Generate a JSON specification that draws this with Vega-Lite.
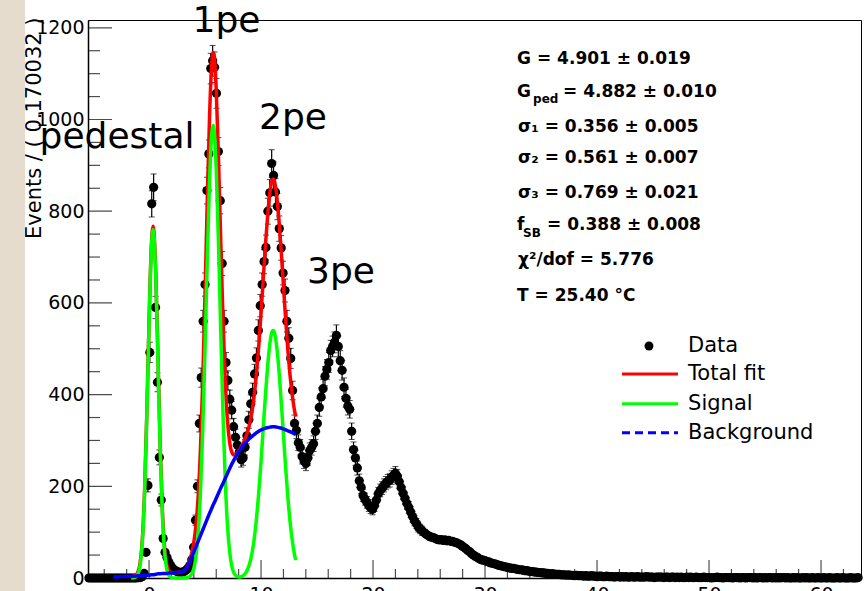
{
  "$schema": "https://vega.github.io/schema/vega-lite/v6.json",
  "description": "Charge spectrum of a photodetector with pedestal, 1pe, 2pe and 3pe peaks, total fit, signal and background components.",
  "autosize": {"type": "none"},
  "width": 773,
  "height": 558,
  "padding": {"left": 88, "top": 20, "right": 4, "bottom": 13},
  "background": "white",
  "config": {
    "font": "DejaVu Sans",
    "view": {"stroke": "black", "strokeWidth": 1, "fill": "white"},
    "axis": {
      "grid": false, "labelOverlap": false, "labelFlush": false, "ticks": false,
      "labelFont": "DejaVu Sans", "labelFontSize": 19, "labelColor": "black",
      "domainColor": "black", "domainWidth": 1.5
    }
  },
  "datasets": {
    "hist": [
      {"x":-5.37,"n":0},{"x":-5.20,"n":0},{"x":-5.03,"n":0},{"x":-4.86,"n":0},{"x":-4.69,"n":0},{"x":-4.52,"n":0},{"x":-4.35,"n":0},{"x":-4.18,"n":0},{"x":-4.01,"n":0},{"x":-3.84,"n":0},
      {"x":-3.67,"n":0},{"x":-3.50,"n":0},{"x":-3.33,"n":0},{"x":-3.16,"n":0},{"x":-2.99,"n":0},{"x":-2.82,"n":0},{"x":-2.65,"n":0},{"x":-2.48,"n":0},{"x":-2.31,"n":0},{"x":-2.14,"n":0},
      {"x":-1.97,"n":0},{"x":-1.80,"n":0},{"x":-1.63,"n":0},{"x":-1.46,"n":0},{"x":-1.29,"n":0},{"x":-1.12,"n":0},{"x":-0.95,"n":1},{"x":-0.78,"n":1},{"x":-0.61,"n":3},{"x":-0.44,"n":10},
      {"x":-0.27,"n":56},{"x":-0.10,"n":202,"e":14.2},{"x":0.07,"n":492,"e":22.2},{"x":0.24,"n":816,"e":28.6},{"x":0.41,"n":852,"e":29.2},{"x":0.58,"n":590,"e":24.3},{"x":0.75,"n":427,"e":20.7},{"x":0.92,"n":263,"e":16.2},{"x":1.09,"n":170,"e":13.0},{"x":1.26,"n":86},
      {"x":1.43,"n":56},{"x":1.60,"n":45},{"x":1.77,"n":35},{"x":1.94,"n":27},{"x":2.11,"n":21},{"x":2.28,"n":17},{"x":2.45,"n":15},{"x":2.62,"n":13},{"x":2.79,"n":12},{"x":2.96,"n":13},
      {"x":3.13,"n":14},{"x":3.30,"n":17},{"x":3.47,"n":21},{"x":3.64,"n":27},{"x":3.81,"n":40},{"x":3.98,"n":67},{"x":4.15,"n":126,"e":11.2},{"x":4.32,"n":200,"e":14.1},{"x":4.49,"n":337,"e":18.4},{"x":4.66,"n":437,"e":20.9},
      {"x":4.83,"n":560,"e":23.7},{"x":5.00,"n":640,"e":25.3},{"x":5.17,"n":845,"e":29.1},{"x":5.34,"n":925,"e":30.4},{"x":5.51,"n":1111,"e":33.3},{"x":5.68,"n":1128,"e":33.6},{"x":5.85,"n":1114,"e":33.4},{"x":6.02,"n":1057,"e":32.5},{"x":6.19,"n":930,"e":30.5},{"x":6.36,"n":823,"e":28.7},
      {"x":6.53,"n":686,"e":26.2},{"x":6.70,"n":560,"e":23.7},{"x":6.87,"n":470,"e":21.7},{"x":7.04,"n":431,"e":20.8},{"x":7.21,"n":390,"e":19.7},{"x":7.38,"n":366,"e":19.1},{"x":7.55,"n":330,"e":18.2},{"x":7.72,"n":307,"e":17.5},{"x":7.89,"n":290,"e":17.0},{"x":8.06,"n":275,"e":16.6},
      {"x":8.23,"n":258,"e":16.1},{"x":8.40,"n":262,"e":16.2},{"x":8.57,"n":285,"e":16.9},{"x":8.74,"n":310,"e":17.6},{"x":8.91,"n":345,"e":18.6},{"x":9.08,"n":380,"e":19.5},{"x":9.25,"n":405,"e":20.1},{"x":9.42,"n":445,"e":21.1},{"x":9.59,"n":480,"e":21.9},{"x":9.76,"n":540,"e":23.2},
      {"x":9.93,"n":594,"e":24.4},{"x":10.10,"n":640,"e":25.3},{"x":10.27,"n":690,"e":26.3},{"x":10.44,"n":721,"e":26.9},{"x":10.61,"n":800,"e":28.3},{"x":10.78,"n":840,"e":29.0},{"x":10.95,"n":904,"e":30.1},{"x":11.12,"n":878,"e":29.6},{"x":11.29,"n":842,"e":29.0},{"x":11.46,"n":810,"e":28.5},
      {"x":11.63,"n":762,"e":27.6},{"x":11.80,"n":720,"e":26.8},{"x":11.97,"n":665,"e":25.8},{"x":12.14,"n":627,"e":25.0},{"x":12.31,"n":560,"e":23.7},{"x":12.48,"n":523,"e":22.9},{"x":12.65,"n":479,"e":21.9},{"x":12.82,"n":409,"e":20.2},{"x":12.99,"n":337,"e":18.4},{"x":13.16,"n":322,"e":17.9},
      {"x":13.33,"n":295,"e":17.2},{"x":13.50,"n":285,"e":16.9},{"x":13.67,"n":265,"e":16.3},{"x":13.84,"n":255,"e":16.0},{"x":14.01,"n":250,"e":15.8},{"x":14.18,"n":262,"e":16.2},{"x":14.35,"n":278,"e":16.7},{"x":14.52,"n":285,"e":16.9},{"x":14.69,"n":293,"e":17.1},{"x":14.86,"n":320,"e":17.9},
      {"x":15.03,"n":337,"e":18.4},{"x":15.20,"n":372,"e":19.3},{"x":15.37,"n":395,"e":19.9},{"x":15.54,"n":413,"e":20.3},{"x":15.71,"n":440,"e":21.0},{"x":15.88,"n":455,"e":21.3},{"x":16.05,"n":470,"e":21.7},{"x":16.22,"n":496,"e":22.3},{"x":16.39,"n":505,"e":22.5},{"x":16.56,"n":514,"e":22.7},
      {"x":16.73,"n":529,"e":23.0},{"x":16.90,"n":505,"e":22.5},{"x":17.07,"n":474,"e":21.8},{"x":17.24,"n":453,"e":21.3},{"x":17.41,"n":416,"e":20.4},{"x":17.58,"n":392,"e":19.8},{"x":17.75,"n":375,"e":19.4},{"x":17.92,"n":368,"e":19.2},{"x":18.09,"n":320,"e":17.9},{"x":18.26,"n":280,"e":16.7},
      {"x":18.43,"n":262,"e":16.2},{"x":18.60,"n":240,"e":15.5},{"x":18.77,"n":212,"e":14.6},{"x":18.94,"n":198,"e":14.1},{"x":19.11,"n":180,"e":13.4},{"x":19.28,"n":172,"e":13.1},{"x":19.45,"n":165,"e":12.8},{"x":19.62,"n":158,"e":12.6},{"x":19.79,"n":153,"e":12.4},{"x":19.96,"n":150,"e":12.2},
      {"x":20.13,"n":158,"e":12.6},{"x":20.30,"n":170,"e":13.0},{"x":20.47,"n":184,"e":13.6},{"x":20.64,"n":191,"e":13.8},{"x":20.81,"n":196,"e":14.0},{"x":20.98,"n":202,"e":14.2},{"x":21.15,"n":207,"e":14.4},{"x":21.32,"n":211,"e":14.5},{"x":21.49,"n":213,"e":14.6},{"x":21.66,"n":219,"e":14.8},
      {"x":21.83,"n":224,"e":15.0},{"x":22.00,"n":228,"e":15.1},{"x":22.17,"n":222,"e":14.9},{"x":22.34,"n":210,"e":14.5},{"x":22.51,"n":197,"e":14.0},{"x":22.68,"n":185,"e":13.6},{"x":22.85,"n":174,"e":13.2},{"x":23.02,"n":163,"e":12.8},{"x":23.19,"n":154,"e":12.4},{"x":23.36,"n":144,"e":12.0},
      {"x":23.53,"n":134,"e":11.6},{"x":23.70,"n":125,"e":11.2},{"x":23.87,"n":119,"e":10.9},{"x":24.04,"n":111,"e":10.5},{"x":24.21,"n":107,"e":10.3},{"x":24.38,"n":103,"e":10.1},{"x":24.55,"n":99},{"x":24.72,"n":96},{"x":24.89,"n":93},{"x":25.06,"n":90},
      {"x":25.23,"n":89},{"x":25.40,"n":88},{"x":25.57,"n":86},{"x":25.74,"n":84},{"x":25.91,"n":83},{"x":26.08,"n":84},{"x":26.25,"n":82},{"x":26.42,"n":83},{"x":26.59,"n":81},{"x":26.76,"n":82},
      {"x":26.93,"n":80},{"x":27.10,"n":80},{"x":27.27,"n":78},{"x":27.44,"n":77},{"x":27.61,"n":75},{"x":27.78,"n":73},{"x":27.95,"n":70},{"x":28.12,"n":67},{"x":28.29,"n":64},{"x":28.46,"n":60},
      {"x":28.63,"n":57},{"x":28.80,"n":53},{"x":28.97,"n":50},{"x":29.14,"n":47},{"x":29.31,"n":45},{"x":29.48,"n":42},{"x":29.65,"n":40},{"x":29.82,"n":39},{"x":29.99,"n":38},{"x":30.16,"n":36},
      {"x":30.33,"n":35},{"x":30.50,"n":33},{"x":30.67,"n":32},{"x":30.84,"n":31},{"x":31.01,"n":30},{"x":31.18,"n":28},{"x":31.35,"n":27},{"x":31.52,"n":26},{"x":31.69,"n":25},{"x":31.86,"n":24},
      {"x":32.03,"n":23},{"x":32.20,"n":22},{"x":32.37,"n":21},{"x":32.54,"n":21},{"x":32.71,"n":20},{"x":32.88,"n":19},{"x":33.05,"n":18},{"x":33.22,"n":18},{"x":33.39,"n":17},{"x":33.56,"n":16},
      {"x":33.73,"n":16},{"x":33.90,"n":15},{"x":34.07,"n":14},{"x":34.24,"n":14},{"x":34.41,"n":13},{"x":34.58,"n":13},{"x":34.75,"n":12},{"x":34.92,"n":12},{"x":35.09,"n":11},{"x":35.26,"n":11},
      {"x":35.43,"n":10},{"x":35.60,"n":10},{"x":35.77,"n":9},{"x":35.94,"n":9},{"x":36.11,"n":9},{"x":36.28,"n":8},{"x":36.45,"n":8},{"x":36.62,"n":8},{"x":36.79,"n":7},{"x":36.96,"n":7},
      {"x":37.13,"n":7},{"x":37.30,"n":6},{"x":37.47,"n":7},{"x":37.64,"n":6},{"x":37.81,"n":6},{"x":37.98,"n":5},{"x":38.15,"n":6},{"x":38.32,"n":5},{"x":38.49,"n":5},{"x":38.66,"n":5},
      {"x":38.83,"n":4},{"x":39.00,"n":5},{"x":39.17,"n":4},{"x":39.34,"n":4},{"x":39.51,"n":5},{"x":39.68,"n":4},{"x":39.85,"n":4},{"x":40.02,"n":3},{"x":40.19,"n":4},{"x":40.36,"n":4},
      {"x":40.53,"n":3},{"x":40.70,"n":3},{"x":40.87,"n":4},{"x":41.04,"n":3},{"x":41.21,"n":3},{"x":41.38,"n":3},{"x":41.55,"n":2},{"x":41.72,"n":3},{"x":41.89,"n":3},{"x":42.06,"n":2},
      {"x":42.23,"n":3},{"x":42.40,"n":2},{"x":42.57,"n":3},{"x":42.74,"n":2},{"x":42.91,"n":2},{"x":43.08,"n":3},{"x":43.25,"n":2},{"x":43.42,"n":2},{"x":43.59,"n":3},{"x":43.76,"n":2},
      {"x":43.93,"n":2},{"x":44.10,"n":2},{"x":44.27,"n":2},{"x":44.44,"n":3},{"x":44.61,"n":2},{"x":44.78,"n":2},{"x":44.95,"n":2},{"x":45.12,"n":1},{"x":45.29,"n":2},{"x":45.46,"n":2},
      {"x":45.63,"n":2},{"x":45.80,"n":2},{"x":45.97,"n":1},{"x":46.14,"n":2},{"x":46.31,"n":2},{"x":46.48,"n":1},{"x":46.65,"n":2},{"x":46.82,"n":2},{"x":46.99,"n":1},{"x":47.16,"n":2},
      {"x":47.33,"n":1},{"x":47.50,"n":2},{"x":47.67,"n":1},{"x":47.84,"n":1},{"x":48.01,"n":2},{"x":48.18,"n":1},{"x":48.35,"n":2},{"x":48.52,"n":1},{"x":48.69,"n":1},{"x":48.86,"n":2},
      {"x":49.03,"n":1},{"x":49.20,"n":1},{"x":49.37,"n":1},{"x":49.54,"n":2},{"x":49.71,"n":1},{"x":49.88,"n":1},{"x":50.05,"n":1},{"x":50.22,"n":0},{"x":50.39,"n":1},{"x":50.56,"n":1},
      {"x":50.73,"n":2},{"x":50.90,"n":1},{"x":51.07,"n":1},{"x":51.24,"n":0},{"x":51.41,"n":1},{"x":51.58,"n":1},{"x":51.75,"n":1},{"x":51.92,"n":1},{"x":52.09,"n":0},{"x":52.26,"n":1},
      {"x":52.43,"n":1},{"x":52.60,"n":1},{"x":52.77,"n":0},{"x":52.94,"n":1},{"x":53.11,"n":1},{"x":53.28,"n":0},{"x":53.45,"n":1},{"x":53.62,"n":1},{"x":53.79,"n":1},{"x":53.96,"n":0},
      {"x":54.13,"n":1},{"x":54.30,"n":0},{"x":54.47,"n":1},{"x":54.64,"n":1},{"x":54.81,"n":0},{"x":54.98,"n":1},{"x":55.15,"n":0},{"x":55.32,"n":1},{"x":55.49,"n":1},{"x":55.66,"n":0},
      {"x":55.83,"n":1},{"x":56.00,"n":0},{"x":56.17,"n":1},{"x":56.34,"n":0},{"x":56.51,"n":1},{"x":56.68,"n":1},{"x":56.85,"n":0},{"x":57.02,"n":1},{"x":57.19,"n":0},{"x":57.36,"n":0},
      {"x":57.53,"n":1},{"x":57.70,"n":0},{"x":57.87,"n":1},{"x":58.04,"n":0},{"x":58.21,"n":0},{"x":58.38,"n":1},{"x":58.55,"n":0},{"x":58.72,"n":1},{"x":58.89,"n":0},{"x":59.06,"n":0},
      {"x":59.23,"n":1},{"x":59.40,"n":0},{"x":59.57,"n":0},{"x":59.74,"n":1},{"x":59.91,"n":0},{"x":60.08,"n":0},{"x":60.25,"n":1},{"x":60.42,"n":0},{"x":60.59,"n":0},{"x":60.76,"n":1},
      {"x":60.93,"n":0},{"x":61.10,"n":0},{"x":61.27,"n":0},{"x":61.44,"n":1},{"x":61.61,"n":0},{"x":61.78,"n":0},{"x":61.95,"n":1},{"x":62.12,"n":0},{"x":62.29,"n":0},{"x":62.46,"n":0},
      {"x":62.63,"n":1},{"x":62.80,"n":0},{"x":62.97,"n":0},{"x":63.14,"n":0},{"x":63.31,"n":1}
    ],
    "fit": [
      {"x":-3.2,"bkg":2},{"x":-3.0,"bkg":2},{"x":-2.8,"bkg":2},{"x":-2.6,"bkg":3},{"x":-2.4,"bkg":3},{"x":-2.2,"bkg":3},{"x":-2.0,"bkg":3},{"x":-1.8,"bkg":4},
      {"x":-1.6,"sig":0,"bkg":4,"tot":4},{"x":-1.4,"sig":0.3,"bkg":4,"tot":4.3},{"x":-1.2,"sig":1.9,"bkg":4,"tot":5.9},{"x":-1.0,"sig":7.9,"bkg":5,"tot":12.9},
      {"x":-0.8,"sig":27,"bkg":5,"tot":32},{"x":-0.6,"sig":78,"bkg":5,"tot":83},{"x":-0.4,"sig":183,"bkg":6,"tot":189},{"x":-0.2,"sig":351,"bkg":6,"tot":357},
      {"x":0.0,"sig":552,"bkg":6,"tot":558},{"x":0.2,"sig":713,"bkg":7,"tot":720},{"x":0.36,"sig":760,"bkg":7,"tot":767},{"x":0.6,"sig":659,"bkg":8,"tot":667},
      {"x":0.8,"sig":471,"bkg":9,"tot":480},{"x":1.0,"sig":276,"bkg":9,"tot":285},{"x":1.2,"sig":133,"bkg":10,"tot":143},{"x":1.4,"sig":53,"bkg":10,"tot":63},
      {"x":1.6,"sig":17,"bkg":10,"tot":27},{"x":1.8,"sig":4.5,"bkg":11,"tot":15.5},{"x":2.0,"sig":1,"bkg":11,"tot":12},{"x":2.2,"sig":0.2,"bkg":11,"tot":11.2},
      {"x":2.4,"sig":0,"bkg":12,"tot":12},{"x":2.6,"sig":0,"bkg":12,"tot":12},{"x":2.8,"sig":0,"bkg":13,"tot":13},{"x":3.0,"sig":0.1,"bkg":14,"tot":14.1},
      {"x":3.2,"sig":0.3,"bkg":17,"tot":17.3},{"x":3.4,"sig":0.9,"bkg":23,"tot":23.9},{"x":3.6,"sig":2.9,"bkg":33,"tot":35.9},{"x":3.8,"sig":8.2,"bkg":45,"tot":53.2},
      {"x":4.0,"sig":21,"bkg":57,"tot":78},{"x":4.2,"sig":49,"bkg":69,"tot":118},{"x":4.4,"sig":102,"bkg":81,"tot":183},{"x":4.6,"sig":193,"bkg":93,"tot":286},
      {"x":4.8,"sig":328,"bkg":105,"tot":433},{"x":5.0,"sig":503,"bkg":117,"tot":620},{"x":5.2,"sig":694,"bkg":129,"tot":823},{"x":5.4,"sig":864,"bkg":141,"tot":1005},
      {"x":5.6,"sig":969,"bkg":152,"tot":1121},{"x":5.72,"sig":987,"bkg":159,"tot":1146},{"x":5.8,"sig":979,"bkg":163,"tot":1142},{"x":6.0,"sig":891,"bkg":174,"tot":1065},
      {"x":6.2,"sig":731,"bkg":185,"tot":916},{"x":6.4,"sig":541,"bkg":196,"tot":737},{"x":6.6,"sig":361,"bkg":206,"tot":567},{"x":6.8,"sig":216,"bkg":217,"tot":433},
      {"x":7.0,"sig":117,"bkg":228,"tot":345},{"x":7.2,"sig":57,"bkg":239,"tot":296},{"x":7.4,"sig":25,"bkg":249,"tot":274},{"x":7.6,"sig":10,"bkg":258,"tot":268},
      {"x":7.8,"sig":4.1,"bkg":267,"tot":271},{"x":8.0,"sig":2.3,"bkg":275,"tot":277},{"x":8.2,"sig":2.8,"bkg":282,"tot":285},{"x":8.4,"sig":5.2,"bkg":289,"tot":294},
      {"x":8.6,"sig":10,"bkg":295,"tot":305},{"x":8.8,"sig":19,"bkg":300,"tot":319},{"x":9.0,"sig":33,"bkg":305,"tot":338},{"x":9.2,"sig":55,"bkg":309,"tot":364},
      {"x":9.4,"sig":87,"bkg":313,"tot":400},{"x":9.6,"sig":131,"bkg":317,"tot":448},{"x":9.8,"sig":187,"bkg":320,"tot":507},{"x":10.0,"sig":254,"bkg":323,"tot":577},
      {"x":10.2,"sig":328,"bkg":325,"tot":653},{"x":10.4,"sig":401,"bkg":327,"tot":728},{"x":10.6,"sig":465,"bkg":328,"tot":793},{"x":10.8,"sig":513,"bkg":329,"tot":842},
      {"x":11.0,"sig":538,"bkg":330,"tot":868},{"x":11.08,"sig":540,"bkg":330,"tot":870},{"x":11.2,"sig":535,"bkg":330,"tot":865},{"x":11.4,"sig":505,"bkg":329,"tot":834},
      {"x":11.6,"sig":453,"bkg":328,"tot":781},{"x":11.8,"sig":386,"bkg":327,"tot":713},{"x":12.0,"sig":313,"bkg":325,"tot":638},{"x":12.2,"sig":240,"bkg":323,"tot":563},
      {"x":12.4,"sig":175,"bkg":321,"tot":496},{"x":12.6,"sig":121,"bkg":319,"tot":440},{"x":12.8,"sig":80,"bkg":317,"tot":397},{"x":13.0,"sig":50,"bkg":314,"tot":364},
      {"x":13.1,"sig":39,"bkg":313,"tot":352}
    ],
    "yticks": [
      {"x":-5.45,"n":0},{"x":-5.45,"n":50},{"x":-5.45,"n":100},{"x":-5.45,"n":150},{"x":-5.45,"n":200},{"x":-5.45,"n":250},{"x":-5.45,"n":300},{"x":-5.45,"n":350},{"x":-5.45,"n":400},
      {"x":-5.45,"n":450},{"x":-5.45,"n":500},{"x":-5.45,"n":550},{"x":-5.45,"n":600},{"x":-5.45,"n":650},{"x":-5.45,"n":700},{"x":-5.45,"n":750},{"x":-5.45,"n":800},
      {"x":-5.45,"n":850},{"x":-5.45,"n":900},{"x":-5.45,"n":950},{"x":-5.45,"n":1000},{"x":-5.45,"n":1050},{"x":-5.45,"n":1100},{"x":-5.45,"n":1150},{"x":-5.45,"n":1200}
    ],
    "xticks": [
      {"x":-4,"n":0},{"x":-2,"n":0},{"x":0,"n":0},{"x":2,"n":0},{"x":4,"n":0},{"x":6,"n":0},{"x":8,"n":0},{"x":10,"n":0},{"x":12,"n":0},{"x":14,"n":0},{"x":16,"n":0},{"x":18,"n":0},
      {"x":20,"n":0},{"x":22,"n":0},{"x":24,"n":0},{"x":26,"n":0},{"x":28,"n":0},{"x":30,"n":0},{"x":32,"n":0},{"x":34,"n":0},{"x":36,"n":0},{"x":38,"n":0},{"x":40,"n":0},
      {"x":42,"n":0},{"x":44,"n":0},{"x":46,"n":0},{"x":48,"n":0},{"x":50,"n":0},{"x":52,"n":0},{"x":54,"n":0},{"x":56,"n":0},{"x":58,"n":0},{"x":60,"n":0},{"x":62,"n":0}
    ],
    "legendKeys": [
      {"label":"Data","x":44.64,"n":506},
      {"label":"Total fit","x":42.23,"n":445},
      {"label":"Signal","x":42.23,"n":380},
      {"label":"Background","x":42.23,"n":317}
    ],
    "legendLabels": [
      {"label":"Data","x":48.13,"n":506},
      {"label":"Total fit","x":48.13,"n":445},
      {"label":"Signal","x":48.13,"n":380},
      {"label":"Background","x":48.13,"n":317}
    ],
    "peaks": [
      {"t":"pedestal","x":-2.86,"n":961},
      {"t":"1pe","x":6.92,"n":1214},
      {"t":"2pe","x":12.86,"n":1003},
      {"t":"3pe","x":17.14,"n":667}
    ],
    "stats": [
      {"t":"G = 4.901 ± 0.019","x":32.86,"n":1133},
      {"t":"G","x":32.86,"n":1060},
      {"t":"= 4.882 ± 0.010","x":36.96,"n":1060},
      {"t":"σ₁ = 0.356 ± 0.005","x":32.95,"n":984},
      {"t":"σ₂ = 0.561 ± 0.007","x":32.95,"n":915},
      {"t":"σ₃ = 0.769 ± 0.021","x":32.95,"n":839},
      {"t":"f","x":32.86,"n":769},
      {"t":"= 0.388 ± 0.008","x":35.54,"n":769},
      {"t":"χ²/dof = 5.776","x":32.95,"n":693},
      {"t":"T = 25.40  °C","x":32.86,"n":616}
    ],
    "subs": [
      {"t":"ped","x":34.29,"n":1044},
      {"t":"SB","x":33.39,"n":753}
    ]
  },
  "encoding": {
    "x": {
      "field": "x", "type": "quantitative", "title": null,
      "scale": {"domain": [-5.45, 63.57], "nice": false, "zero": false},
      "axis": {
        "values": [0, 10, 20, 30, 40, 50, 60],
        "format": "d",
        "labelPadding": 7,
        "labelBaseline": "top",
        "title": null
      }
    },
    "y": {
      "field": "n", "type": "quantitative", "title": "Events / ( 0.170032 )",
      "scale": {"domain": [0, 1217], "nice": false, "zero": false},
      "axis": {
        "values": [0, 200, 400, 600, 800, 1000, 1200],
        "format": "d",
        "labelPadding": 4,
        "title": "Events / ( 0.170032 )",
        "titleFont": "DejaVu Sans", "titleFontSize": 21, "titleFontWeight": "normal", "titleColor": "black",
        "titleAngle": 270, "titleAlign": "right", "titleBaseline": "middle",
        "titleX": -54, "titleY": -3
      }
    }
  },
  "layer": [
    {
      "data": {"values": [{"x": -13.6, "n": -40}]},
      "mark": {"type": "rect", "color": "#e6dccd", "clip": false},
      "encoding": {
        "x2": {"datum": -11.07},
        "y2": {"datum": 1300}
      }
    },
    {
      "data": {"name": "yticks"},
      "mark": {"type": "tick", "orient": "horizontal", "color": "black", "thickness": 1.2, "clip": true},
      "encoding": {
        "size": {"condition": {"test": "datum.n % 200 === 0", "value": 48}, "value": 24}
      }
    },
    {
      "data": {"name": "xticks"},
      "mark": {"type": "tick", "orient": "vertical", "color": "black", "thickness": 1.2, "clip": true},
      "encoding": {
        "size": {"condition": {"test": "datum.x % 10 === 0", "value": 36}, "value": 18}
      }
    },
    {
      "data": {"name": "hist"},
      "transform": [{"filter": "isValid(datum.e)"}],
      "mark": {"type": "errorbar", "ticks": {"size": 6, "color": "black", "strokeWidth": 1.2}, "rule": {"color": "black", "strokeWidth": 1.2}},
      "encoding": {
        "yError": {"field": "e"}
      }
    },
    {
      "data": {"name": "hist"},
      "mark": {"type": "point", "shape": "circle", "filled": true, "size": 85, "opacity": 1, "color": "black", "clip": false}
    },
    {
      "data": {"name": "fit"},
      "transform": [{"fold": ["tot"], "as": ["k", "n"]}],
      "mark": {"type": "line", "strokeWidth": 3.5, "interpolate": "monotone", "color": "#ff0000"}
    },
    {
      "data": {"name": "fit"},
      "transform": [{"fold": ["sig"], "as": ["k", "n"]}],
      "mark": {"type": "line", "strokeWidth": 3.5, "interpolate": "monotone", "color": "#00ff00"}
    },
    {
      "data": {"name": "fit"},
      "transform": [{"fold": ["bkg"], "as": ["k", "n"]}],
      "mark": {"type": "line", "strokeWidth": 3.5, "interpolate": "monotone", "color": "#0000ff"}
    },
    {
      "data": {"name": "legendKeys"},
      "transform": [{"filter": "datum.label === 'Data'"}],
      "mark": {"type": "point", "shape": "circle", "filled": true, "size": 80, "opacity": 1, "color": "black"}
    },
    {
      "data": {"name": "legendKeys"},
      "transform": [{"filter": "datum.label !== 'Data'"}],
      "mark": {"type": "rule", "strokeWidth": 3},
      "encoding": {
        "x2": {"datum": 47.23},
        "color": {
          "field": "label", "type": "nominal", "legend": null,
          "scale": {"domain": ["Total fit", "Signal", "Background"], "range": ["#ff0000", "#00ff00", "#0000ff"]}
        },
        "strokeDash": {"condition": {"test": "datum.label === 'Background'", "value": [8, 5]}, "value": [1, 0]}
      }
    },
    {
      "data": {"name": "legendLabels"},
      "mark": {"type": "text", "font": "DejaVu Sans", "fontSize": 21, "color": "black", "align": "left", "baseline": "middle"},
      "encoding": {
        "text": {"field": "label"}
      }
    },
    {
      "data": {"name": "peaks"},
      "mark": {"type": "text", "font": "DejaVu Sans", "fontSize": 36, "color": "black", "align": "center", "baseline": "middle", "clip": false},
      "encoding": {
        "text": {"field": "t"}
      }
    },
    {
      "data": {"name": "stats"},
      "mark": {"type": "text", "font": "DejaVu Sans", "fontSize": 17, "fontWeight": "bold", "color": "black", "align": "left", "baseline": "middle"},
      "encoding": {
        "text": {"field": "t"}
      }
    },
    {
      "data": {"name": "subs"},
      "mark": {"type": "text", "font": "DejaVu Sans", "fontSize": 12, "fontWeight": "bold", "color": "black", "align": "left", "baseline": "middle"},
      "encoding": {
        "text": {"field": "t"}
      }
    }
  ]
}
